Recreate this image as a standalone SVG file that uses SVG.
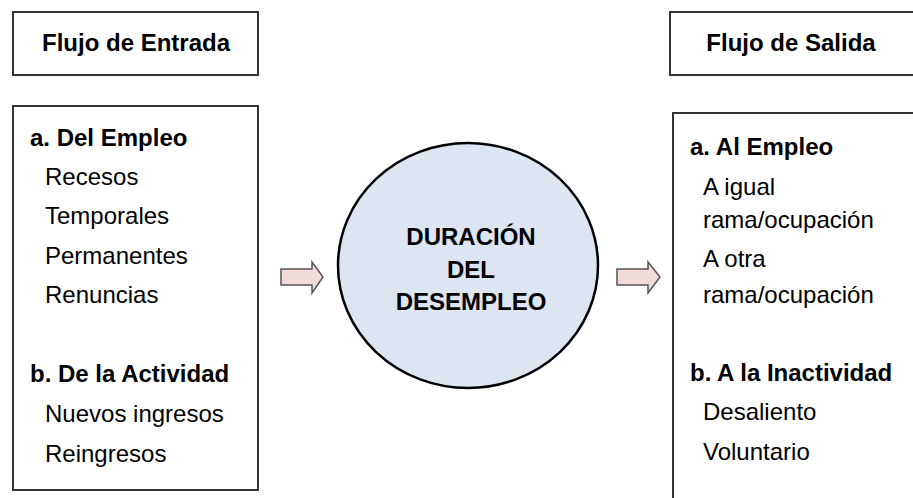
<svg xmlns="http://www.w3.org/2000/svg" width="913" height="498" viewBox="0 0 913 498">
<style>
.box{fill:#fff;stroke:#333;stroke-width:2}
.t{font-family:"Liberation Sans",Arial,sans-serif;font-size:24px;fill:#000}
.b{font-weight:bold}
.arrow{fill:#f2dcdb;stroke:#555;stroke-width:1.5}
</style>
<rect width="913" height="498" fill="#fff"/>
<g id="title-entrada">
<rect class="box" x="13" y="12" width="245" height="63"/>
<text class="t b" x="136" y="51" text-anchor="middle">Flujo de Entrada</text>
</g>
<g id="entrada">
<rect class="box" x="13" y="106" width="245" height="384"/>
<text class="t b" x="30" y="146">a. Del Empleo</text>
<text class="t" x="45" y="185">Recesos</text>
<text class="t" x="45" y="224">Temporales</text>
<text class="t" x="45" y="264">Permanentes</text>
<text class="t" x="45" y="303">Renuncias</text>
<text class="t b" x="30" y="382">b. De la Actividad</text>
<text class="t" x="45" y="422">Nuevos ingresos</text>
<text class="t" x="45" y="462">Reingresos</text>
</g>
<g id="duracion">
<ellipse cx="468" cy="265.5" rx="130" ry="122.5" fill="#dce5f1" stroke="#000" stroke-width="2.5"/>
<text class="t b" x="471" y="245" text-anchor="middle">DURACIÓN</text>
<text class="t b" x="471" y="278" text-anchor="middle">DEL</text>
<text class="t b" x="471" y="310" text-anchor="middle">DESEMPLEO</text>
</g>
<g id="title-salida">
<rect class="box" x="670" y="12" width="260" height="63"/>
<text class="t b" x="791" y="51" text-anchor="middle">Flujo de Salida</text>
</g>
<g id="salida">
<rect class="box" x="673" y="113" width="260" height="400"/>
<text class="t b" x="690" y="155">a. Al Empleo</text>
<text class="t" x="703" y="195">A igual</text>
<text class="t" x="703" y="228">rama/ocupación</text>
<text class="t" x="703" y="267">A otra</text>
<text class="t" x="703" y="303">rama/ocupación</text>
<text class="t b" x="690" y="381">b. A la Inactividad</text>
<text class="t" x="703" y="420">Desaliento</text>
<text class="t" x="703" y="460">Voluntario</text>
</g>
<g id="connectors">
<polygon class="arrow" points="281,269 312,269 312,262 323,277 312,293 312,285 281,285"/>
<polygon class="arrow" points="617,269 648,269 648,262 660,277 648,293 648,285 617,285"/>
</g>
</svg>
